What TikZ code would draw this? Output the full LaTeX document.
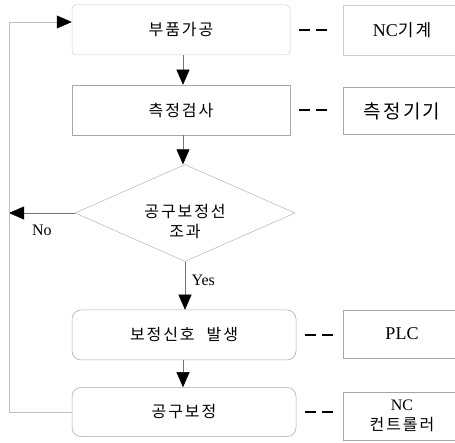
\documentclass[tikz,border=0pt]{standalone}
\usepackage{fontspec}
\setmainfont{Liberation Serif}
\newfontfamily\kr[LetterSpace=12]{Noto Sans CJK KR}
\usetikzlibrary{positioning,shapes,arrows.meta}

\begin{document}
\begin{tikzpicture}[x=1pt,y=-1pt]
      \tikzstyle{proc} = [draw=gray!70, line width=0.5pt, minimum width=218pt,
      minimum height=50pt, inner sep=0pt, font=\kr\fontsize{16}{18}\selectfont]
      \tikzstyle{dev} = [draw=gray!70, line width=0.5pt, minimum width=118pt,
      minimum height=48pt, inner sep=0pt, align=center,
      font=\fontsize{18}{20}\selectfont]
      \tikzstyle{flow} = [draw=black!55, line width=0.5pt,
      -{Triangle[length=15pt,width=13pt,color=black]}]
      \tikzstyle{link} = [draw, line width=1.4pt, dash pattern=on 11pt off 6pt,
      shorten <=9pt, shorten >=10pt]
      \useasboundingbox (0,0) rectangle (455,443);
      % process column
      \node[proc, rounded corners=4pt, draw=gray!40] (a) at (181,30) {부품가공};
      \node[proc] (b) at (181,110) {측정검사};
      \node[draw=gray!70, shape=diamond, aspect=2.27, minimum width=220pt,
      minimum height=97pt, inner sep=0pt,
      label={[align=center, yshift=-9pt, font=\kr\fontsize{16}{20}\selectfont]center:공구보정선\\조과}]
      (c) at (185,213) {};
      \node[proc, rounded corners=9pt, minimum width=224pt] (d) at (184,335)
      {보정신호\hspace{12pt}발생};
      \node[proc, rounded corners=9pt, minimum width=224pt, minimum height=49pt]
      (e) at (184,412) {공구보정};
      % device column
      \node[dev, draw=gray!40, minimum height=50pt] (f) at (402,30)
      {NC{\kr\fontsize{17}{20}\selectfont 기계}};
      \node[dev, minimum height=47pt] (g) at (402,111)
      {\kr\fontsize{19}{21}\selectfont 측정기기};
      \node[dev] (h) at (402,334) {PLC};
      \node[dev, font=\fontsize{16}{19}\selectfont] (i) at (402,416)
      {NC\\[1pt]{\kr\fontsize{16}{19}\selectfont 컨트롤러}};
      % corners of the loop
      \coordinate (lt) at (9,22); \coordinate (lb) at (9,412);
      % arrows
      \draw[flow] (a.south -| 183,0) -- (b.north -| 183,0);
      \draw[flow] (b.south -| 183,0) -- (c.north -| 183,0);
      \draw[flow] (c.south) -- node[right=3pt,pos=0.38,font=\fontsize{16}{18}\selectfont]{Yes}
      (d.north -| c.south);
      \draw[flow] (d.south -| 183,0) -- (e.north -| 183,0);
      \draw[flow] (c.west) -- node[below=8pt,pos=0.5,font=\fontsize{16}{18}\selectfont]{No}
      (c.west -| lt);
      \draw[flow, draw=gray!50] (e.west) -- (lb) -- (lt) -- (lt -| a.west);
      % links
      \draw[link] (a.east) -- (f.west);
      \draw[link] (b.east) -- (b.east -| g.west);
      \draw[link] (d.east) -- (d.east -| h.west);
      \draw[link] (e.east) -- (e.east -| i.west);
    \end{tikzpicture}
\end{document}
